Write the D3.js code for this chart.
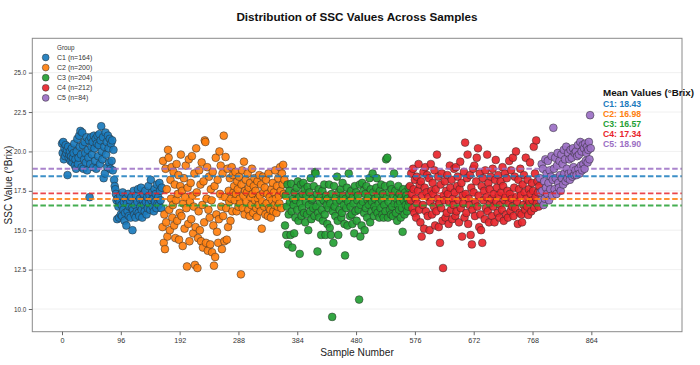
<!DOCTYPE html>
<html>
<head>
<meta charset="utf-8">
<script src="https://cdn.jsdelivr.net/npm/d3@7"></script>
<style>
  html, body { margin: 0; padding: 0; background: #fff; }
  svg { display: block; font-family: "Liberation Sans", Arial, sans-serif; }
</style>
</head>
<body>
<svg id="chart" width="700" height="365"></svg>
<script>
// ---------------- DATA ----------------
const groups = ["C1", "C2", "C3", "C4", "C5"];
const groupCounts = [164, 200, 204, 212, 84];
const groupMeans = [18.43, 16.98, 16.57, 17.34, 18.90];
const groupColors = ["#1a7bbd", "#ff7f0e", "#23a033", "#e8252b", "#9b6fc4"];
const xTicks = [0, 96, 192, 288, 384, 480, 576, 672, 768, 864];
const yTicks = [10.0, 12.5, 15.0, 17.5, 20.0, 22.5, 25.0];

const c1Values = [
  20.5, 19.9, 20.6, 19.5, 20.2, 19.7, 20.4, 19.9, 20.1, 18.5,
  20.3, 19.6, 19.8, 20.0, 19.4, 19.7, 20.2, 19.3, 19.6, 19.9,
  20.5, 19.1, 19.5, 18.9, 20.0, 20.8, 19.2, 19.6, 21.0, 20.3,
  21.3, 19.8, 19.0, 21.2, 20.4, 18.9, 19.5, 20.6, 19.9, 19.3,
  20.9, 18.8, 20.1, 19.6, 20.7, 17.1, 19.2, 20.9, 20.3, 19.8,
  20.6, 19.0, 21.0, 20.2, 19.4, 20.8, 18.9, 20.5, 21.0, 19.7,
  20.4, 21.1, 19.2, 20.7, 21.6, 20.0, 19.5, 20.9, 18.3, 20.3,
  18.6, 21.2, 19.8, 20.6, 19.0, 21.0, 20.2, 19.3, 20.8, 18.9,
  20.5, 19.4, 20.7, 18.8, 20.1,
  18.2, 17.8, 17.6, 17.3, 16.9, 15.7, 17.0, 16.5, 15.8, 16.8,
  17.2, 16.0, 16.6, 15.9, 17.4, 16.3, 16.8, 15.6, 16.1, 17.0,
  15.3, 16.7, 16.2, 17.3, 15.9, 16.5, 16.9, 15.8, 17.1, 16.4,
  15.0, 16.3, 17.5, 16.0, 16.6, 15.8, 17.2, 16.2, 16.8, 17.6,
  16.1, 15.9, 17.0, 16.5, 17.7, 16.3, 15.8, 16.9, 17.3, 16.6,
  16.2, 17.5, 16.8, 16.0, 17.1, 16.4, 17.8, 16.7, 17.2, 16.3,
  18.2, 16.9, 17.4, 16.5, 17.0, 16.2, 17.6, 16.8, 17.3, 16.4,
  17.9, 16.7, 17.1, 16.6, 18.0, 17.5, 16.9, 16.4, 17.7
];
const c2Values = [
  15.2, 19.4, 14.2, 16.0, 13.8, 18.9, 15.5, 17.6, 14.6, 20.1,
  19.6, 16.3, 15.0, 18.2, 17.0, 19.0, 15.8, 16.6, 18.7, 15.3,
  17.9, 14.5, 16.9, 19.2, 15.6, 17.3, 18.5, 14.4, 16.1, 17.8,
  19.8, 15.9, 17.5, 14.0, 16.7, 18.3, 15.1, 17.1, 19.1, 16.4,
  12.7, 17.7, 15.4, 19.5, 14.3, 16.8, 18.0, 15.7, 19.7, 17.2,
  14.8, 16.5, 18.6, 12.8, 15.2, 20.2, 17.4, 12.6, 14.5, 16.2,
  18.8, 15.0, 17.9, 14.3, 19.3, 16.6, 13.9, 18.1, 15.5, 20.7,
  20.6, 14.2, 17.0, 19.0, 13.7, 16.3, 18.4, 15.8, 14.1, 17.6,
  16.9, 13.6, 18.7, 15.3, 12.75, 17.8, 13.3, 19.6, 16.0, 14.9,
  18.2, 14.2, 15.7, 20.0, 17.3, 19.1, 16.5, 13.8, 18.6, 15.9,
  21.0, 14.3, 17.1, 19.65, 16.4, 14.4, 18.9, 15.2, 17.5, 16.8,
  18.3, 15.6, 17.0, 19.0, 16.2, 18.5, 17.4,
  17.8, 16.9, 18.7, 17.3, 16.2, 18.1, 17.6, 16.5, 18.4, 17.0,
  16.7, 12.2, 17.9, 18.8, 16.4, 17.2, 19.35, 16.0, 17.5, 18.2,
  16.8, 17.4, 18.6, 16.3, 17.7, 15.9, 18.0, 17.1, 16.6, 18.9,
  17.3, 16.1, 17.8, 18.3, 16.9, 17.5, 16.4, 15.85, 18.1, 17.0,
  16.6, 18.5, 17.2, 16.2, 17.9, 15.1, 16.8, 18.4, 17.4, 16.5,
  17.7, 16.0, 18.2, 16.7, 17.3, 15.9, 18.6, 16.4, 17.1, 16.3,
  15.8, 17.6, 16.9, 18.0, 16.2, 17.4, 16.6, 18.8, 17.0, 16.1,
  17.8, 16.5, 18.3, 17.2, 16.7, 19.0, 17.5, 16.4, 18.6, 17.9,
  19.15, 17.3, 18.2
];
const c3Values = [
  15.3, 17.2, 14.7, 16.5, 17.9, 14.1, 16.0, 17.5, 16.8, 14.7,
  17.95, 16.2, 13.9, 17.0, 16.6, 14.8, 17.4, 15.8, 16.9, 17.7,
  16.3, 18.1, 15.6, 17.1, 13.5, 16.7, 17.9, 15.9, 16.4, 17.3,
  18.0, 16.1, 17.6, 15.5, 16.8, 17.2, 16.0, 17.75, 15.0, 16.6,
  17.4, 16.2, 18.3, 15.7, 16.9, 17.0, 16.4, 17.8, 15.9, 18.7,
  18.6, 16.5, 17.3, 13.65, 16.1, 17.6, 15.8, 16.8, 17.1, 14.7,
  16.3, 17.5, 15.6, 16.9, 17.9, 16.0, 14.7, 17.2, 16.6, 15.4,
  17.0, 16.4, 17.9, 15.15, 16.7, 14.7, 17.3, 9.5, 16.2, 14.2,
  17.8, 16.5, 15.9, 17.1, 16.8, 18.4, 15.6, 14.7, 17.4, 16.3,
  16.9, 17.6, 15.8, 16.1, 18.0, 17.2, 16.6, 15.4, 13.4, 17.0,
  16.4, 17.7, 15.3, 16.8, 18.6, 17.3, 15.9, 16.5, 17.5, 16.0,
  15.4, 17.1, 16.7, 14.8, 17.8, 16.2, 17.4, 15.6, 16.9, 17.2,
  16.3, 10.6, 17.9, 14.6, 16.6, 15.3, 18.0, 16.8, 17.5, 16.1,
  15.0, 17.3, 16.4, 17.8, 15.8, 16.9, 17.1, 16.6, 18.3, 15.5,
  17.6, 16.2, 16.8, 18.6, 17.4, 15.9, 16.5, 17.0, 16.3, 17.7,
  18.3, 16.1, 17.2, 16.7, 15.8, 17.5, 16.4, 17.9, 16.9, 16.0,
  17.3, 15.8, 16.6, 17.8, 16.2, 19.5, 17.1, 19.6, 15.8, 16.8,
  17.4, 16.3, 17.9, 16.0, 17.6, 16.5, 15.9, 17.2, 18.6, 16.7,
  17.5, 16.1, 17.0, 15.6, 16.6, 17.8, 16.3, 17.3, 16.8, 15.8,
  17.1, 16.4, 14.9, 17.6, 16.9, 16.0, 17.4, 16.6, 17.2, 16.2,
  17.0, 16.5, 17.7, 16.8
];
const c4Values = [
  17.8, 16.9, 18.6, 17.3, 16.4, 18.9, 17.6, 16.1, 18.2, 17.0,
  15.8, 18.4, 16.7, 17.5, 19.2, 16.3, 17.9, 15.5, 18.1, 14.6,
  17.2, 16.6, 18.7, 15.1, 17.7, 19.0, 16.2, 17.4, 18.5, 15.9,
  17.1, 18.3, 15.0, 16.8, 19.2, 17.5, 16.0, 18.0, 17.3, 16.5,
  18.8, 15.3, 17.6, 16.2, 19.8, 17.0, 18.4, 15.2, 16.7, 14.2,
  17.9, 16.4, 18.6, 15.6, 12.6, 17.2, 16.9, 18.1, 15.8, 17.5,
  16.1, 18.5, 17.3, 15.4, 16.8, 19.1, 17.7, 16.3, 18.2, 15.7,
  17.0, 16.6, 18.9, 17.4, 15.9, 19.0, 16.2, 17.8, 18.4, 16.9,
  15.5, 17.6, 19.35, 16.4, 18.0, 14.6, 17.2, 16.7, 18.7, 15.8,
  20.56, 17.3, 16.1, 18.3, 19.8, 15.4, 17.0, 16.6, 18.5, 14.7,
  17.7, 14.1, 16.3, 18.9, 17.4, 19.1, 15.9, 16.8, 18.1, 19.6,
  16.5, 20.2, 17.2, 15.2, 18.6, 16.0, 15.0, 17.8, 14.2, 18.3,
  16.9, 17.5, 15.7, 18.8, 16.4, 17.1, 19.8, 16.2, 18.0, 15.5,
  17.6, 16.7, 18.4, 17.0, 15.9, 18.9, 16.5, 17.3, 15.5, 18.2,
  19.46, 16.8, 17.7, 16.1, 18.5, 17.2, 15.8, 16.6, 18.1, 17.4,
  16.3, 19.0, 17.8, 15.6, 16.9, 18.6, 17.1, 16.0, 18.3, 17.5,
  15.8, 16.7, 19.4, 17.3, 16.2, 18.8, 17.0, 16.5, 19.6, 15.9,
  17.7, 18.4, 16.4, 20.0, 17.1, 16.8, 15.4, 18.2, 17.6, 16.1,
  18.9, 17.2, 16.0, 15.5, 17.9, 16.6, 18.5, 17.4, 16.3, 19.6,
  17.0, 16.5, 18.2, 15.97, 17.6, 16.8, 19.3, 17.3, 16.2, 18.0,
  16.9, 17.5, 20.3, 16.4, 18.6, 17.1, 20.7, 16.7, 18.1, 17.4,
  16.5, 17.8
];
const c5Values = [
  18.3, 17.4, 16.9, 19.2, 17.5, 18.9, 16.6, 18.1, 17.0, 19.5,
  17.7, 18.6, 17.3, 19.4, 18.0, 16.9, 18.8, 17.6, 18.4, 19.7,
  17.2, 18.2, 21.5, 18.9, 17.6, 19.6, 18.3, 17.3, 19.1, 19.9,
  18.0, 17.7, 19.4, 18.5, 17.5, 19.8, 18.3, 19.2, 17.9, 20.1,
  18.6, 19.5, 18.1, 20.3, 18.9, 18.3, 19.9, 18.6, 19.5, 18.2,
  20.1, 18.7, 19.6, 18.4, 20.2, 19.0, 18.5, 19.9, 18.8, 20.0,
  18.5, 19.7, 20.4, 18.9, 19.8, 18.6, 20.6, 19.1, 20.0, 18.8,
  20.4, 19.2, 20.2, 18.9, 20.5, 19.4, 19.9, 20.3, 19.3, 20.1,
  20.6, 19.5, 22.3, 20.2
];
const groupValues = [c1Values, c2Values, c3Values, c4Values, c5Values];

// ---------------- BUILD POINTS ----------------
const points = [];
let idx = 0;
groupValues.forEach((vals, g) => {
  vals.forEach(v => { points.push({ i: idx++, v: v, g: g }); });
});

// ---------------- LAYOUT ----------------
const svg = d3.select("#chart");
const plot = { left: 32.3, right: 682, top: 38.3, bottom: 331.7 };

const x = d3.scaleLinear().domain([-48.5, 1012]).range([plot.left, plot.right]);
const y = d3.scaleLinear().domain([8.56, 27.18]).range([plot.bottom, plot.top]);

// gridlines
svg.append("g").selectAll("line").data(yTicks).join("line")
  .attr("x1", plot.left).attr("x2", plot.right)
  .attr("y1", d => y(d)).attr("y2", d => y(d))
  .attr("stroke", "#ececec").attr("stroke-width", 0.8);

// points
svg.append("g").selectAll("circle").data(points).join("circle")
  .attr("cx", d => x(d.i))
  .attr("cy", d => y(d.v))
  .attr("r", 3.9)
  .attr("fill", d => groupColors[d.g])
  .attr("fill-opacity", 0.92)
  .attr("stroke", "#2a2a2a")
  .attr("stroke-width", 0.5);

// mean lines
svg.append("g").selectAll("line").data(groupMeans).join("line")
  .attr("x1", plot.left).attr("x2", plot.right)
  .attr("y1", d => y(d)).attr("y2", d => y(d))
  .attr("stroke", (d, i) => groupColors[i])
  .attr("stroke-width", 1.9)
  .attr("stroke-opacity", 0.85)
  .attr("stroke-dasharray", "5.5,2.6");

// frame
svg.append("rect")
  .attr("x", plot.left).attr("y", plot.top)
  .attr("width", plot.right - plot.left).attr("height", plot.bottom - plot.top)
  .attr("fill", "none").attr("stroke", "#8a8a8a").attr("stroke-width", 1);

// axes
const xAxis = d3.axisBottom(x).tickValues(xTicks).tickSize(3.5).tickPadding(2.5).tickFormat(d3.format("d"));
const gx = svg.append("g").attr("transform", `translate(0,${plot.bottom})`).call(xAxis);
gx.select(".domain").remove();
gx.selectAll("line").attr("stroke", "#666");
gx.selectAll("text").attr("font-size", 7.2).attr("fill", "#333").attr("font-family", "Liberation Sans, Arial, sans-serif");

const yAxis = d3.axisLeft(y).tickValues(yTicks).tickSize(3.5).tickPadding(2.5).tickFormat(d3.format(".1f"));
const gy = svg.append("g").attr("transform", `translate(${plot.left},0)`).call(yAxis);
gy.select(".domain").remove();
gy.selectAll("line").attr("stroke", "#666");
gy.selectAll("text").attr("font-size", 6.3).attr("fill", "#333").attr("font-family", "Liberation Sans, Arial, sans-serif");

// title & labels
svg.append("text").attr("x", 357).attr("y", 20.5).attr("text-anchor", "middle")
  .attr("font-size", 11.7).attr("font-weight", "bold").attr("fill", "#111")
  .text("Distribution of SSC Values Across Samples");
svg.append("text").attr("x", 357).attr("y", 356).attr("text-anchor", "middle")
  .attr("font-size", 10.2).attr("fill", "#222").text("Sample Number");
svg.append("text").attr("transform", "translate(11.5,185) rotate(-90)").attr("text-anchor", "middle")
  .attr("font-size", 10).attr("fill", "#222").text("SSC Value (°Brix)");

// legend
const leg = svg.append("g");
leg.append("text").attr("x", 57).attr("y", 50).attr("font-size", 6.3).attr("fill", "#333").text("Group");
groups.forEach((g, i) => {
  const yy = 57.5 + i * 10.1;
  leg.append("circle").attr("cx", 45.7).attr("cy", yy).attr("r", 3.4)
    .attr("fill", groupColors[i]).attr("fill-opacity", 0.92)
    .attr("stroke", "#2a2a2a").attr("stroke-width", 0.5);
  leg.append("text").attr("x", 57).attr("y", yy + 2.5).attr("font-size", 7).attr("fill", "#333")
    .text(`${g} (n=${groupCounts[i]})`);
});

// mean values annotation
const mv = svg.append("g");
mv.append("text").attr("x", 603).attr("y", 95.7).attr("font-size", 9.8).attr("font-weight", "bold")
  .attr("fill", "#111").text("Mean Values (°Brix)");
groups.forEach((g, i) => {
  mv.append("text").attr("x", 603).attr("y", 106.7 + i * 10).attr("font-size", 8.7)
    .attr("font-weight", "bold").attr("fill", groupColors[i])
    .text(`${g}: ${groupMeans[i].toFixed(2)}`);
});
</script>
</body>
</html>
